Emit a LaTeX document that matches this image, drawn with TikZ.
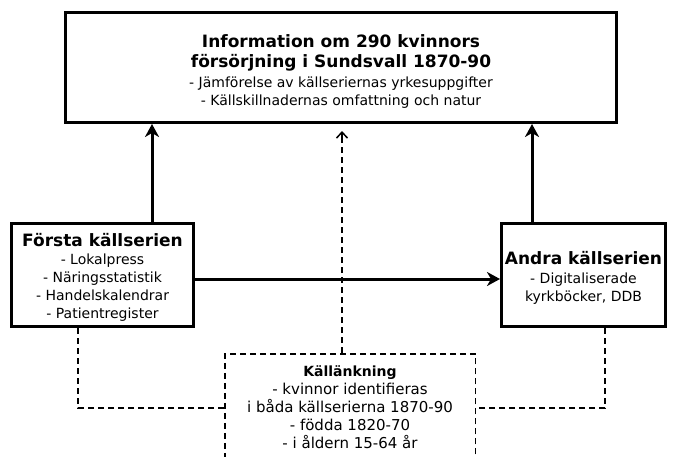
\documentclass[tikz,border=0pt]{standalone}
\usepackage{fontspec}
\setmainfont{DejaVu Sans}
\usetikzlibrary{arrows.meta}
\begin{document}
\begin{tikzpicture}[x=1pt,y=-1pt,
        ruta/.style={draw, line width=3pt, align=center, inner sep=0pt, font=\fontsize{14}{18}\selectfont},
        streckruta/.style={draw, line width=1.5pt, dash pattern=on 6pt off 4pt, inner sep=0pt},
        pil/.style={line width=3pt, -{Stealth[length=13pt,width=14pt,inset=4pt]}},
        streck/.style={line width=1.5pt, dash pattern=on 6pt off 4pt},
        spets/.style={line width=1.5pt, -{Straight Barb[length=6pt,width=11pt]}}]
    \useasboundingbox (0,0) rectangle (676,456);
    \node[ruta, minimum width=551pt, minimum height=110pt] (info) at (341,67.5)
        {\rule{0pt}{20pt}\textbf{\fontsize{17}{20}\selectfont Information om 290 kvinnors}\\[2pt]
         \textbf{\fontsize{17}{20}\selectfont försörjning i Sundsvall 1870-90}\\[2pt]
         - Jämförelse av källseriernas yrkesuppgifter\\
         - Källskillnadernas omfattning och natur};
    \node[ruta, minimum width=182pt, minimum height=103pt] (forsta) at (102.5,275)
        {\rule{0pt}{17pt}\textbf{\fontsize{17}{20}\selectfont Första källserien}\\
         - Lokalpress\\
         - Näringsstatistik\\
         - Handelskalendrar\\
         - Patientregister};
    \node[ruta, minimum width=164pt, minimum height=103pt] (andra) at (583.5,275)
        {\rule{0pt}{19pt}\textbf{\fontsize{17}{20}\selectfont Andra källserien}\\[1pt]
         - Digitaliserade\\
         kyrkböcker, DDB};
    \node[streckruta, minimum width=250.5pt, minimum height=150pt, anchor=north] (kall) at (350,353) {};
    \node[align=center, inner sep=0pt, font=\fontsize{15}{18}\selectfont] (kalltext) at (350,407)
        {\textbf{\fontsize{14}{18}\selectfont Källänkning}\\
         - kvinnor identifieras\\
         i båda källserierna 1870-90\\
         - födda 1820-70\\
         - i åldern 15-64 år};
    \coordinate (mitt) at (342,131);
    \coordinate (mittfot) at (342,140);
    \draw[pil] ([yshift=-4pt]forsta.east) -- ([yshift=-4pt]andra.west);
    \draw[pil] (forsta.north -| 152,0) -- (info.south -| 152,0);
    \draw[pil] (andra.north -| 532,0) -- (info.south -| 532,0);
    \draw[streck] (forsta.south -| 78,0) |- (kall.west |- 0,408);
    \draw[streck] (andra.south -| 605,0) |- (kall.east |- 0,408);
    \draw[streck] (kall.north -| mitt) -- (mittfot);
    \draw[spets] (mittfot) -- (mitt);
\end{tikzpicture}
\end{document}
